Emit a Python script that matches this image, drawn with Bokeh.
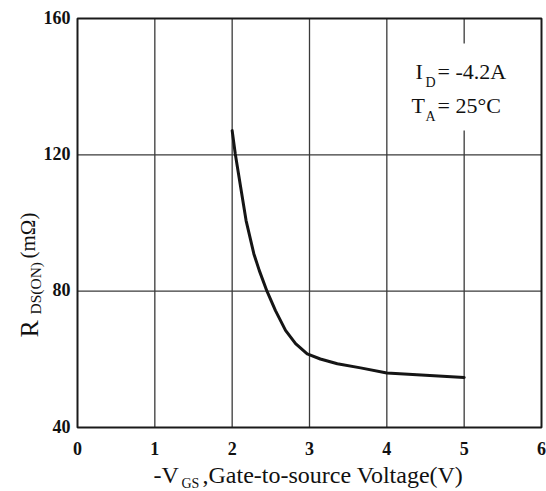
from bokeh.plotting import figure
from bokeh.models import Range1d
from bokeh.core.properties import value
from bokeh.embed import file_html
from bokeh.resources import INLINE
import math

# ---- data ----
vgs = [2.0, 2.04, 2.11, 2.18, 2.28, 2.35, 2.45, 2.56, 2.69, 2.82, 2.97, 3.14, 3.36, 3.66, 4.0, 4.5, 5.0]
rds_on = [127.1, 120.3, 110.5, 100.7, 91.0, 86.1, 80.0, 74.3, 68.5, 64.6, 61.6, 60.1, 58.7, 57.5, 56.0, 55.3, 54.7]
x_ticks = [0, 1, 2, 3, 4, 5, 6]
y_ticks = [40, 80, 120, 160]
x_tick_labels = ["0", "1", "2", "3", "4", "5", "6"]
y_tick_labels = ["40", "80", "120", "160"]
note_lines = [("I", "D", "= -4.2A"), ("T", "A", "= 25°C")]
x_title = ("-V", "GS", ",Gate-to-source Voltage(V)")
y_title = ("R", "DS(ON)", "(mΩ)")

FONT = "Liberation Serif"
W, H = 546, 491
K = 0.30  # baseline correction (fraction of font size)

# plot frame geometry inside the canvas (pixels)
FL, FR, FT, FB = 77, 541, 18, 427
X0, X1, Y0, Y1 = x_ticks[0], x_ticks[-1], y_ticks[0], y_ticks[-1]


def px2x(px):
    return X0 + (px - FL) * (X1 - X0) / (FR - FL)


def py2y(py):
    return Y1 - (py - FT) * (Y1 - Y0) / (FB - FT)


PXU = (X1 - X0) / (FR - FL)   # data units per pixel, x
PYU = (Y1 - Y0) / (FB - FT)   # data units per pixel, y

p = figure(width=W, height=H, output_backend="svg", toolbar_location=None,
           x_range=Range1d(px2x(0), px2x(W)), y_range=Range1d(py2y(H), py2y(0)),
           min_border=0, x_axis_type=None, y_axis_type=None)
p.background_fill_color = "white"
p.border_fill_color = "white"
p.outline_line_color = None
p.xgrid.visible = False
p.ygrid.visible = False

# grid lines
inner_x = x_ticks[1:-1]
inner_y = y_ticks[1:-1]
p.segment(x0=inner_x, y0=[Y0] * len(inner_x), x1=inner_x, y1=[Y1] * len(inner_x),
          line_color="#3a3a3a", line_width=1.3)
p.segment(x0=[X0] * len(inner_y), y0=inner_y, x1=[X1] * len(inner_y), y1=inner_y,
          line_color="#3a3a3a", line_width=1.3)

# white box behind the condition note (interrupts the grid line)
p.quad(left=[px2x(392)], right=[px2x(532)], top=[py2y(43)], bottom=[py2y(130)],
       fill_color="white", line_color=None)

# frame outline
p.quad(left=[X0], right=[X1], bottom=[Y0], top=[Y1], fill_color=None,
       line_color="#1a1a1a", line_width=2)

# curve
p.line(vgs, rds_on, line_color="#151515", line_width=3, line_join="round", line_cap="round")

# tick labels
p.text(x=x_ticks, y=[Y0 - 26 * PYU] * len(x_ticks), text=x_tick_labels, y_offset=-K * 18,
       text_font=value(FONT), text_font_style="bold", text_font_size="18px",
       text_color="#111111", text_align="center", text_baseline="alphabetic")
p.text(x=[X0 - 7 * PXU] * len(y_ticks), y=[t - 4 * PYU for t in y_ticks], text=y_tick_labels,
       y_offset=-K * 18,
       text_font=value(FONT), text_font_style="bold", text_font_size="18px",
       text_color="#111111", text_align="right", text_baseline="alphabetic")


def lab(text, px, py, size):
    p.text(x=[px2x(px)], y=[py2y(py)], text=[text], y_offset=-K * size,
           text_font=value(FONT), text_font_size=f"{size}px", text_color="#111111",
           text_align="left", text_baseline="alphabetic")


def vlab(text, px_base, py, size):
    # rotated text: baseline correction applied across the text direction
    p.text(x=[px2x(px_base - K * size)], y=[py2y(py)], text=[text], angle=math.pi / 2,
           text_font=value(FONT), text_font_size=f"{size}px", text_color="#111111",
           text_align="left", text_baseline="alphabetic")


# condition note
lab(note_lines[0][0], 415, 78, 22)
lab(note_lines[0][1], 425, 86, 14)
lab(note_lines[0][2], 437, 78, 22)
lab(note_lines[1][0], 411, 112, 22)
lab(note_lines[1][1], 425, 120, 14)
lab(note_lines[1][2], 437, 112, 22)

# x axis title
lab(x_title[0], 153, 482, 24)
lab(x_title[1], 181, 487, 14)
lab(x_title[2], 202, 482, 24)

# y axis title (rotated)
vlab(y_title[0], 37, 337, 26)
vlab(y_title[1], 39.5, 314, 15.5)
vlab(y_title[2], 33.5, 258, 21)

open("out.html", "w").write(file_html(p, INLINE))
